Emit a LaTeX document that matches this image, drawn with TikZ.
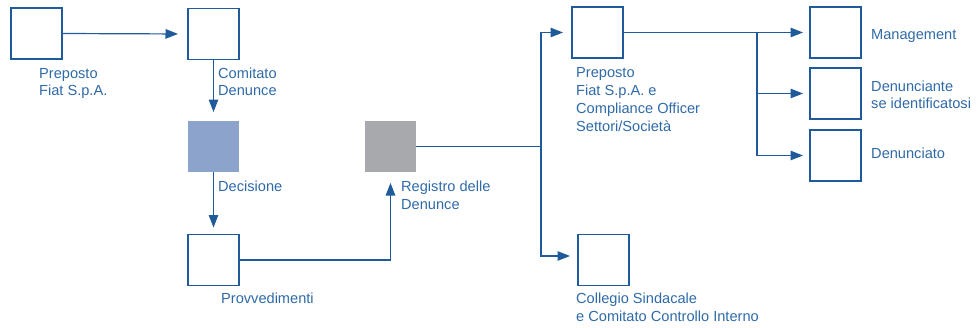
\documentclass[tikz,border=0pt]{standalone}
\usepackage{fontspec}
\setmainfont{Liberation Sans}
\usetikzlibrary{arrows.meta}
\definecolor{lineblue}{HTML}{1F5A9A}
\definecolor{textblue}{HTML}{2F6AA8}
\definecolor{fillblue}{HTML}{8CA4CB}
\definecolor{fillgray}{HTML}{A8A9AD}
\begin{document}
\begin{tikzpicture}[x=1pt,y=-1pt,
  box/.style={draw=lineblue,line width=1.3pt,fill=white,minimum size=51pt,inner sep=0pt,outer sep=0pt},
  bluebox/.style={fill=fillblue,minimum size=51pt,inner sep=0pt,outer sep=0pt},
  graybox/.style={fill=fillgray,minimum size=51pt,inner sep=0pt,outer sep=0pt},
  lbl/.style={text=textblue,font=\fontsize{14.6pt}{17.8pt}\selectfont,align=left,anchor=base west,inner sep=0pt},
  conn/.style={draw=lineblue,line width=1.2pt},
  arr/.style={conn,-{Triangle[length=12.5pt,width=9.5pt]}}
]
\useasboundingbox (0,0) rectangle (980,327);
% boxes
\node[box] (b1) at (36.5,33.5) {};
\node[box] (b2) at (213.5,34) {};
\node[bluebox] (b3) at (213.5,146.5) {};
\node[box] (b4) at (213.5,260) {};
\node[graybox] (b5) at (390.5,146.5) {};
\node[box] (b6) at (597.5,32.5) {};
\node[box] (b7) at (603.5,260) {};
\node[box] (b8) at (835.5,32.5) {};
\node[box] (b9) at (835.5,93.5) {};
\node[box] (b10) at (835.5,155.5) {};
% labels (anchor is the baseline of the last line)
\node[lbl] (l1) at (39,95.8) {Preposto\\Fiat S.p.A.};
\node[lbl] (l2) at (218,95.8) {Comitato\\Denunce};
\node[lbl] (l3) at (218,191.5) {Decisione};
\node[lbl] (l4) at (221,303) {Provvedimenti};
\node[lbl] (l5) at (401,209.3) {Registro delle\\Denunce};
\node[lbl] (l6) at (576,131.2) {Preposto\\Fiat S.p.A. e\\Compliance Officer\\Settori/Societ\`a};
\node[lbl] (l7) at (576,321.3) {Collegio Sindacale\\e Comitato Controllo Interno};
\node[lbl] (l8) at (871,39) {Management};
\node[lbl] (l9) at (871,108.8) {Denunciante\\se identificatosi};
\node[lbl] (l10) at (871,158) {Denunciato};
% junctions
\coordinate (j1) at (541,146.5);
\coordinate (j2) at (757,32.5);
% connectors
\draw[arr,shorten >=10pt] (b1.east) -- (b2.west);
\draw[arr,shorten >=9pt] (b2.south) -- (b3.north);
\draw[arr,shorten >=7pt] (b3.south) -- (b4.north);
\draw[arr,shorten >=11pt] (b4.east) -| (b5.south);
\draw[conn] (b5.east) -- (j1);
\draw[arr,shorten >=9pt] (j1) |- (b6.west);
\draw[arr,shorten >=8pt] (j1) |- ([yshift=4pt]b7.west);
\draw[arr,shorten >=7pt] (b6.east) -- (b8.west);
\draw[arr,shorten >=7pt] (j2) |- (b9.west);
\draw[arr,shorten >=7pt] (j2) |- (b10.west);
\end{tikzpicture}
\end{document}
